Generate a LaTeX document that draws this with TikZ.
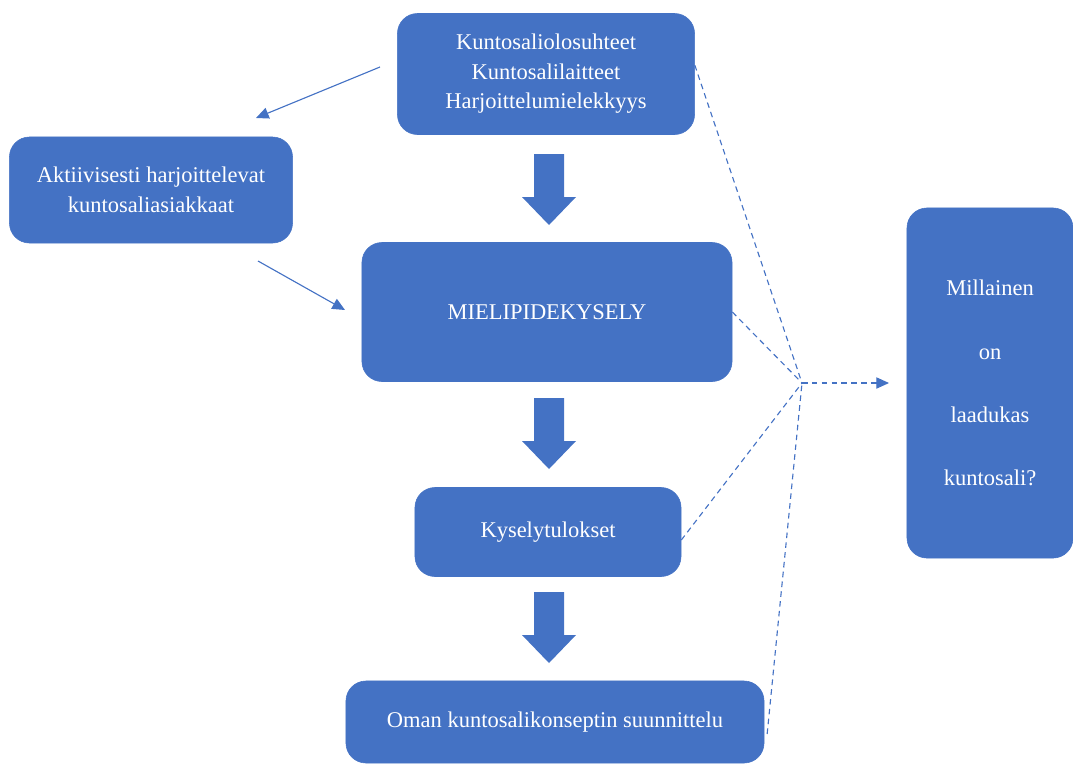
\documentclass[tikz,border=0pt]{standalone}
\usepackage{fontspec}
\setmainfont{Liberation Serif}
\usetikzlibrary{arrows.meta}
\definecolor{boxblue}{RGB}{68,114,196}
\tikzset{
  box/.style={draw=boxblue, fill=boxblue, rounded corners=0.5cm, text=white, align=center,
    font=\fontsize{16}{21}\selectfont, inner sep=0pt},
  thinarrow/.style={draw=boxblue, line width=0.8pt, -{Triangle[length=9pt,width=8pt]}},
  dashline/.style={draw=boxblue, line width=0.8pt, dash pattern=on 4pt off 3pt},
  bigarrow/.style={fill=boxblue},
}
\begin{document}
\begin{tikzpicture}[x=0.025cm, y=-0.025cm]
  \useasboundingbox (0,0) rectangle (1073,764);
  % boxes
  \node[box, minimum width=7.425cm, minimum height=3.025cm] (top) at (546,74)
    {Kuntosaliolosuhteet\\Kuntosalilaitteet\\Harjoittelumielekkyys};
  \node[box, minimum width=7.075cm, minimum height=2.65cm] (clients) at (151,190)
    {Aktiivisesti harjoittelevat\\kuntosaliasiakkaat};
  \node[box, minimum width=9.25cm, minimum height=3.475cm] (survey) at (547,312) {MIELIPIDEKYSELY};
  \node[box, minimum width=6.65cm, minimum height=2.225cm] (results) at (548,532) {Kyselytulokset};
  \node[box, minimum width=10.45cm, minimum height=2.05cm] (plan) at (555,722)
    {Oman kuntosalikonseptin suunnittelu};
  \node[box, minimum width=4.15cm, minimum height=8.75cm, font=\fontsize{16}{45}\selectfont] (question) at (990,383)
    {Millainen\\on\\laadukas\\kuntosali?};
  % block arrows
  \foreach \ay in {154,398,592}
    \fill[bigarrow] (534,\ay) -- (564,\ay) -- (564,\ay+43) -- (576,\ay+43) -- (549,\ay+71)
      -- (522,\ay+43) -- (534,\ay+43) -- cycle;
  % thin arrows
  \coordinate (s1) at (380,67);  \coordinate (e1) at (256,118);
  \coordinate (s2) at (258,261); \coordinate (e2) at (345,310);
  \draw[thinarrow] (s1) -- (e1);
  \draw[thinarrow] (s2) -- (e2);
  % dashed lines
  \coordinate (j) at (802,383);
  \coordinate (tip) at (889,383);
  \draw[dashline] ([yshift=0.22cm]top.east) -- (j);
  \draw[dashline] (survey.east) -- (j);
  \draw[dashline] ([yshift=-0.2cm]results.east) -- (j);
  \draw[dashline] ([xshift=2pt,yshift=-0.3cm]plan.east) -- (j);
  \draw[dashline, -{Triangle[length=9pt,width=8pt]}] (j) -- (tip);
\end{tikzpicture}
\end{document}
